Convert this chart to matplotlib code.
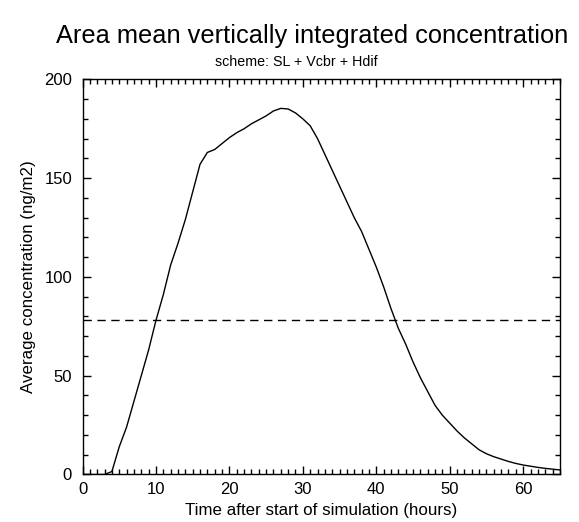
import matplotlib
matplotlib.use("Agg")
import matplotlib.pyplot as plt
from matplotlib.ticker import MultipleLocator

plt.rcParams['font.family'] = ['Liberation Sans', 'DejaVu Sans']

hours = list(range(0, 66))
conc = [0, 0, 0, 0, 1.5, 14, 24, 37, 50, 63,
        78, 91, 106, 117, 129, 143, 157, 163, 164.5, 167.5,
        170.5, 173, 175, 177.5, 179.5, 181.5, 184, 185.3, 185, 183,
        180, 176.5, 170, 162, 154, 146, 138, 130, 123, 114,
        105, 95, 84, 74, 66, 57, 49, 42, 35, 30,
        26, 22, 18.5, 15.5, 12.5, 10.5, 9, 7.8, 6.6, 5.6,
        4.8, 4.2, 3.6, 3.1, 2.7, 2.3]
threshold = 78

title = "Area mean vertically integrated concentration"
subtitle = "scheme: SL + Vcbr + Hdif"
xlabel = "Time after start of simulation (hours)"
ylabel = "Average concentration (ng/m2)"

fig = plt.figure(figsize=(5.79, 5.22), dpi=100)
ax = fig.add_axes([0.1425, 0.091, 0.967 - 0.1425, 0.848 - 0.091])
ax.plot(hours, conc, color='black', lw=1.0)
ax.axhline(threshold, color='black', lw=1.0, ls=(0, (6, 4)))
ax.set_xlim(0, 65)
ax.set_ylim(0, 200)
ax.xaxis.set_major_locator(MultipleLocator(10))
ax.xaxis.set_minor_locator(MultipleLocator(1))
ax.yaxis.set_major_locator(MultipleLocator(50))
ax.yaxis.set_minor_locator(MultipleLocator(10))
ax.tick_params(which='both', direction='in', top=True, right=True, labelsize=12)
ax.tick_params(which='major', length=6, width=1)
ax.tick_params(which='minor', length=3.5, width=1)
ax.tick_params(axis='x', which='major', pad=5.5)
ax.tick_params(axis='y', which='major', pad=7.5)
for s in ax.spines.values():
    s.set_linewidth(1)
ax.set_xlabel(xlabel, fontsize=12.2, labelpad=4)
ax.set_ylabel(ylabel, fontsize=12.2, labelpad=6)
fig.text(0.539, 0.931, title, ha='center', va='center', fontsize=18.3)
fig.text(0.511, 0.882, subtitle, ha='center', va='center', fontsize=10.3)
fig.savefig("out.png", dpi=100)
